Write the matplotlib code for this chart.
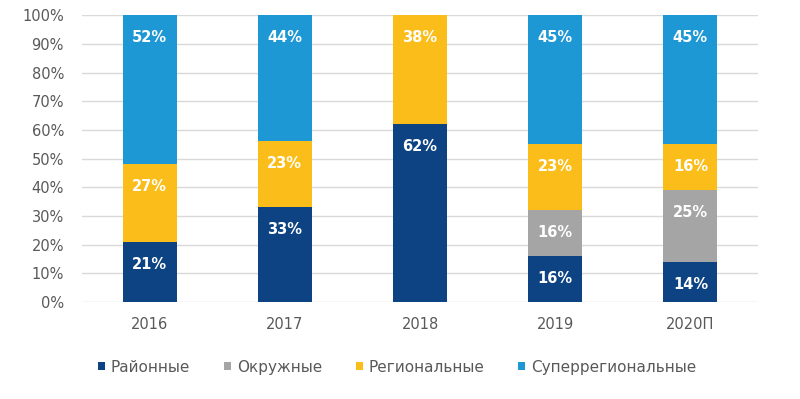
import numpy as np
import matplotlib.pyplot as plt

years = ['2016', '2017', '2018', '2019', '2020П']
series_names = ['Районные', 'Окружные', 'Региональные', 'Суперрегиональные']
rayonnye = [21, 33, 62, 16, 14]
okruzhnye = [0, 0, 0, 16, 25]
regionalnye = [27, 23, 38, 23, 16]
superregionalnye = [52, 44, 0, 45, 45]

colors = ['#0D4383', '#A5A5A5', '#FBBD19', '#1D98D5']

plt.rcParams['font.family'] = ['DejaVu Sans']

fig = plt.figure(figsize=(8, 3.99), dpi=100)
ax = fig.add_axes([0.1025, 0.243, 0.845, 0.719])

x = np.arange(len(years))
bottom = np.zeros(len(years))
for name, vals, col in zip(series_names,
                           [rayonnye, okruzhnye, regionalnye, superregionalnye],
                           colors):
    vals = np.array(vals, dtype=float)
    ax.bar(x, vals, 0.4, bottom=bottom, color=col, label=name, zorder=3)
    # labels sit a fixed distance below the top of each segment
    for xi, b, v in zip(x, bottom, vals):
        if v > 0:
            ax.text(xi, b + v - 7.8, f'{int(v)}%', ha='center', va='center',
                    color='white', fontsize=10.5, fontweight='bold', zorder=4)
    bottom += vals

ax.set_xlim(-0.5, len(years) - 0.5)
ax.set_ylim(0, 100)
ax.set_yticks(range(0, 101, 10))
ax.set_yticklabels([f'{t}%' for t in range(0, 101, 10)])
ax.set_xticks(x)
ax.set_xticklabels(years)
ax.yaxis.grid(True, color='#D9D9D9', linewidth=1, zorder=0)
for s in ax.spines.values():
    s.set_visible(False)
ax.tick_params(axis='both', length=0, labelsize=10.5, colors='#595959')
ax.tick_params(axis='x', pad=11)
ax.tick_params(axis='y', pad=13)

fig.legend(loc='center left', bbox_to_anchor=(0.1225, 0.08), ncol=4, frameon=False,
           fontsize=11, labelcolor='#595959', handlelength=0.45, handleheight=0.45,
           handletextpad=0.4, columnspacing=2.2, borderpad=0, borderaxespad=0)

fig.savefig('out.png', dpi=100)
